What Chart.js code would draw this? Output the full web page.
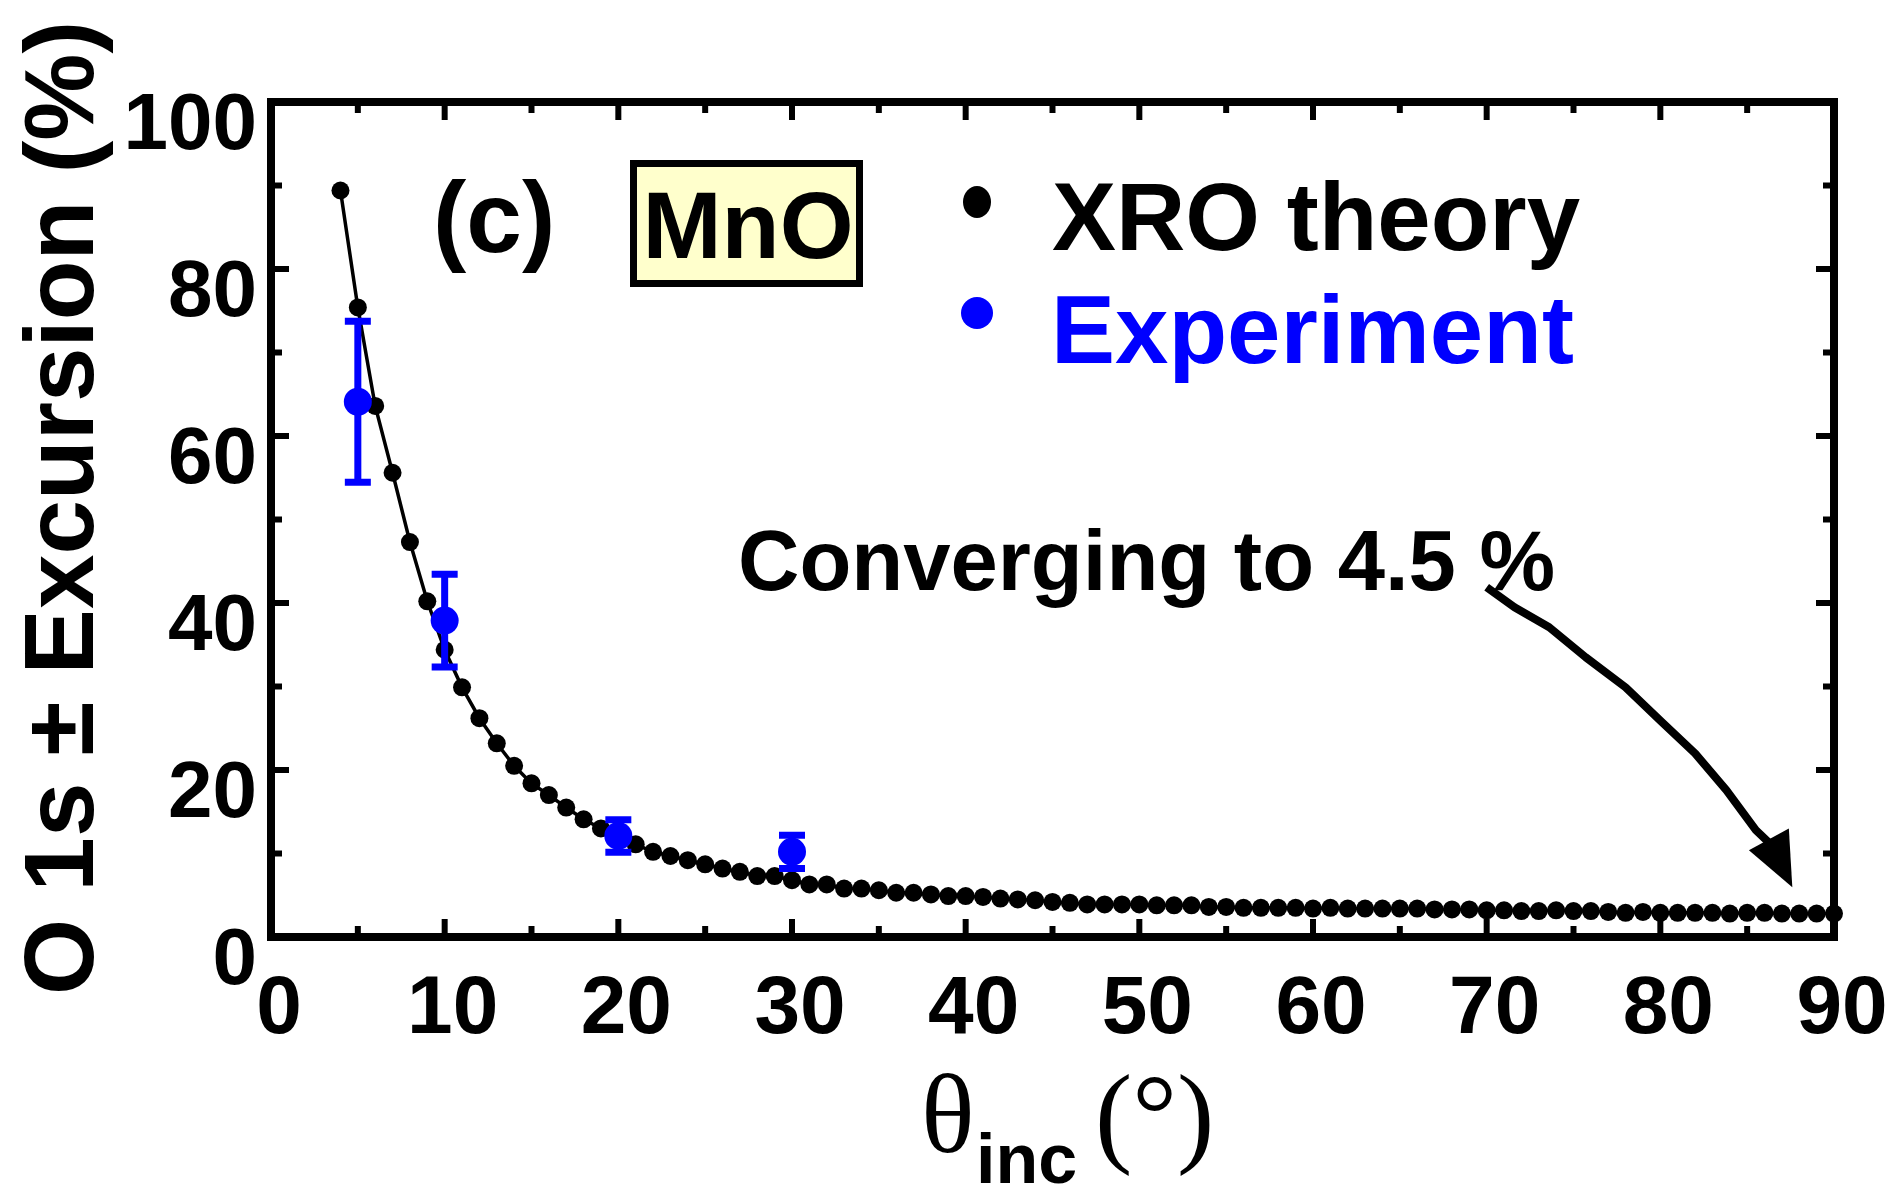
<!DOCTYPE html>
<html>
<head>
<meta charset="utf-8">
<title>MnO O 1s excursion</title>
<script src="https://cdn.jsdelivr.net/npm/chart.js@4.4.0/dist/chart.umd.min.js"></script>
<style>
html, body { margin: 0; padding: 0; background: #fff; }
#wrap { width: 1887px; height: 1187px; position: relative; }
</style>
</head>
<body>
<div id="wrap"><canvas id="chart"></canvas></div>
<script>
// XRO theory: incidence angle (deg) and excursion (%)
var thetaTheory = [4, 5, 6, 7, 8, 9, 10, 11, 12, 13, 14, 15, 16, 17, 18, 19, 20,
	21, 22, 23, 24, 25, 26, 27, 28, 29, 30, 31, 32, 33, 34, 35, 36, 37, 38, 39, 40,
	41, 42, 43, 44, 45, 46, 47, 48, 49, 50, 51, 52, 53, 54, 55, 56, 57, 58, 59, 60,
	61, 62, 63, 64, 65, 66, 67, 68, 69, 70, 71, 72, 73, 74, 75, 76, 77, 78, 79, 80,
	81, 82, 83, 84, 85, 86, 87, 88, 89, 90];
var excTheory = [89.4, 75.4, 63.6, 55.6, 47.3, 40.2, 34.4, 29.9, 26.2, 23.2, 20.5, 18.4, 17.0, 15.5, 14.1, 13.0, 12.1,
	11.1, 10.2, 9.7, 9.2, 8.7, 8.2, 7.8, 7.3, 7.3, 6.8, 6.3, 6.3, 5.8, 5.8, 5.6, 5.3, 5.3, 5.1, 4.9, 4.9,
	4.8, 4.6, 4.5, 4.4, 4.2, 4.1, 3.9, 3.9, 3.9, 3.9, 3.8, 3.8, 3.8, 3.6, 3.6, 3.5, 3.5, 3.5, 3.5, 3.4,
	3.5, 3.4, 3.4, 3.4, 3.4, 3.4, 3.3, 3.3, 3.3, 3.2, 3.2, 3.1, 3.1, 3.2, 3.1, 3.1, 3.0, 2.9, 3.0, 2.9,
	2.9, 2.9, 2.9, 2.8, 2.9, 2.9, 2.8, 2.8, 2.8, 2.8];

// Experiment with error bars
var thetaExp = [5, 10, 20, 30];
var excExp = [64.1, 37.9, 12.1, 10.2];
var errExp = [9.65, 5.55, 1.95, 2.0];

// axis ticks
var xTicks = [0, 10, 20, 30, 40, 50, 60, 70, 80, 90];
var xMinor = [5, 15, 25, 35, 45, 55, 65, 75, 85];
var yTicks = [0, 20, 40, 60, 80, 100];
var yMinor = [10, 30, 50, 70, 90];

// "converging" arrow path, in data units
var arrowX = [70.0, 71.6, 73.6, 75.7, 78.0, 80.0, 82.0, 83.8, 85.5, 86.3];
var arrowY = [41.9, 39.5, 37.1, 33.5, 29.9, 25.9, 22.0, 17.6, 12.8, 11.2];
var arrowHeadX = [85.1, 87.4, 87.6];
var arrowHeadY = [10.4, 13.0, 5.95];

var SANS = '"Liberation Sans", Arial, Helvetica, sans-serif';
var SERIF = '"Liberation Serif", "Times New Roman", serif';

function toPoints(xs, ys) {
	return xs.map(function (x, i) { return { x: x, y: ys[i] }; });
}

// frame with inward ticks on all four sides
var framePlugin = {
	id: 'frame',
	beforeDatasetsDraw: function (chart) {
		var ctx = chart.ctx, a = chart.chartArea;
		var xs = chart.scales.x, ys = chart.scales.y;
		ctx.save();
		ctx.strokeStyle = '#000';
		ctx.lineCap = 'butt';
		ctx.lineWidth = 6;
		function seg(x1, y1, x2, y2) {
			ctx.beginPath(); ctx.moveTo(x1, y1); ctx.lineTo(x2, y2); ctx.stroke();
		}
		function xt(v, len) {
			var p = xs.getPixelForValue(v);
			seg(p, a.bottom, p, a.bottom - len);
			seg(p, a.top, p, a.top + len);
		}
		function yt(v, len) {
			var p = ys.getPixelForValue(v);
			seg(a.left, p, a.left + len, p);
			seg(a.right, p, a.right - len, p);
		}
		xTicks.forEach(function (v) { xt(v, 18); });
		xMinor.forEach(function (v) { xt(v, 11); });
		yTicks.forEach(function (v) { yt(v, 18); });
		yMinor.forEach(function (v) { yt(v, 11); });
		ctx.lineWidth = 8;
		ctx.strokeRect(a.left, a.top, a.right - a.left, a.bottom - a.top);
		ctx.restore();
	},
	// error bars go between the theory dots and the blue dots
	afterDatasetDraw: function (chart, args) {
		if (args.index !== 1) return;
		var ctx = chart.ctx, xs = chart.scales.x, ys = chart.scales.y;
		ctx.save();
		ctx.strokeStyle = '#0000ff';
		ctx.lineWidth = 7;
		for (var i = 0; i < thetaExp.length; i++) {
			var px = xs.getPixelForValue(thetaExp[i]);
			var top = ys.getPixelForValue(excExp[i] + errExp[i]);
			var bot = ys.getPixelForValue(excExp[i] - errExp[i]);
			ctx.beginPath();
			ctx.moveTo(px, top); ctx.lineTo(px, bot);
			ctx.moveTo(px - 13, top); ctx.lineTo(px + 13, top);
			ctx.moveTo(px - 13, bot); ctx.lineTo(px + 13, bot);
			ctx.stroke();
		}
		ctx.restore();
	},
	afterDraw: function (chart) {
		var ctx = chart.ctx, xs = chart.scales.x, ys = chart.scales.y;
		ctx.save();
		ctx.textAlign = 'left';
		ctx.textBaseline = 'alphabetic';

		// panel label
		ctx.fillStyle = '#000';
		ctx.font = 'bold 100px ' + SANS;
		ctx.fillText('(c)', 433, 252);

		// MnO box
		ctx.fillStyle = '#ffffcc';
		ctx.fillRect(633.5, 163.5, 226, 120);
		ctx.lineWidth = 7;
		ctx.strokeStyle = '#000';
		ctx.strokeRect(633.5, 163.5, 226, 120);
		ctx.fillStyle = '#000';
		ctx.font = 'bold 95px ' + SANS;
		ctx.textAlign = 'center';
		ctx.fillText('MnO', 748, 258);

		// legend
		ctx.textAlign = 'left';
		ctx.beginPath(); ctx.ellipse(977, 202, 14, 16, 0, 0, Math.PI * 2); ctx.fill();
		ctx.font = 'bold 96px ' + SANS;
		ctx.fillText('XRO theory', 1052, 250);
		ctx.fillStyle = '#0000ff';
		ctx.beginPath(); ctx.arc(977, 313, 16, 0, Math.PI * 2); ctx.fill();
		ctx.fillText('Experiment', 1051, 363);

		// annotation + arrow
		ctx.fillStyle = '#000';
		ctx.font = 'bold 85px ' + SANS;
		ctx.fillText('Converging to 4.5 %', 738, 590);
		ctx.lineWidth = 8;
		ctx.lineJoin = 'round';
		ctx.beginPath();
		for (var i = 0; i < arrowX.length; i++) {
			var px = xs.getPixelForValue(arrowX[i]), py = ys.getPixelForValue(arrowY[i]);
			if (i === 0) ctx.moveTo(px, py); else ctx.lineTo(px, py);
		}
		ctx.stroke();
		ctx.beginPath();
		for (var j = 0; j < arrowHeadX.length; j++) {
			ctx.lineTo(xs.getPixelForValue(arrowHeadX[j]), ys.getPixelForValue(arrowHeadY[j]));
		}
		ctx.closePath();
		ctx.fill();

		// y title
		ctx.save();
		ctx.translate(93, 508);
		ctx.rotate(-Math.PI / 2);
		ctx.textAlign = 'center';
		ctx.font = 'bold 98px ' + SANS;
		ctx.fillText('O 1s \u00b1 Excursion (%)', 0, 0);
		ctx.restore();

		// x title: theta_inc (deg)
		ctx.font = '112px ' + SERIF;
		ctx.fillText('\u03b8', 921, 1152);
		ctx.font = 'bold 70px ' + SANS;
		ctx.fillText('inc', 976, 1183);
		ctx.font = '112px ' + SERIF;
		ctx.fillText('(\u00b0)', 1095, 1152);
		ctx.restore();
	}
};

var ctx = document.getElementById('chart').getContext('2d');
var chart = new Chart(ctx, {
	type: 'scatter',
	data: {
		datasets: [{
			label: 'XRO theory',
			data: toPoints(thetaTheory, excTheory),
			showLine: true,
			borderColor: '#000',
			borderWidth: 3.5,
			tension: 0,
			pointRadius: 9,
			pointBackgroundColor: '#000',
			pointBorderWidth: 0,
			order: 1,
			clip: false
		}, {
			label: 'Experiment',
			data: toPoints(thetaExp, excExp),
			showLine: false,
			pointRadius: 14,
			pointBackgroundColor: '#0000ff',
			pointBorderWidth: 0,
			order: 0,
			clip: false
		}]
	},
	options: {
		responsive: true,
		maintainAspectRatio: false,
		animation: false,
		events: [],
		layout: { padding: { top: 102, right: 53, left: 0, bottom: 0 } },
		plugins: {
			legend: { display: false },
			tooltip: { enabled: false }
		},
		scales: {
			x: {
				type: 'linear',
				min: 0,
				max: 90,
				grid: { display: false, drawTicks: false },
				border: { display: false },
				afterBuildTicks: function (s) { s.ticks = xTicks.map(function (v) { return { value: v }; }); },
				afterFit: function (s) { s.height = 250; s.paddingLeft = 0; s.paddingRight = 0; },
				ticks: {
					autoSkip: false,
					maxRotation: 0,
					padding: 24,
					labelOffset: 8,
					color: '#000',
					font: { family: SANS, size: 82, weight: 'bold' }
				}
			},
			y: {
				type: 'linear',
				min: 0,
				max: 100,
				grid: { display: false, drawTicks: false },
				border: { display: false },
				afterBuildTicks: function (s) { s.ticks = yTicks.map(function (v) { return { value: v }; }); },
				afterFit: function (s) { s.width = 271; s.paddingTop = 0; s.paddingBottom = 0; },
				ticks: {
					autoSkip: false,
					padding: 14,
					labelOffset: 25,
					color: '#000',
					font: { family: SANS, size: 80, weight: 'bold' }
				}
			}
		}
	},
	plugins: [framePlugin]
});
</script>
</body>
</html>
